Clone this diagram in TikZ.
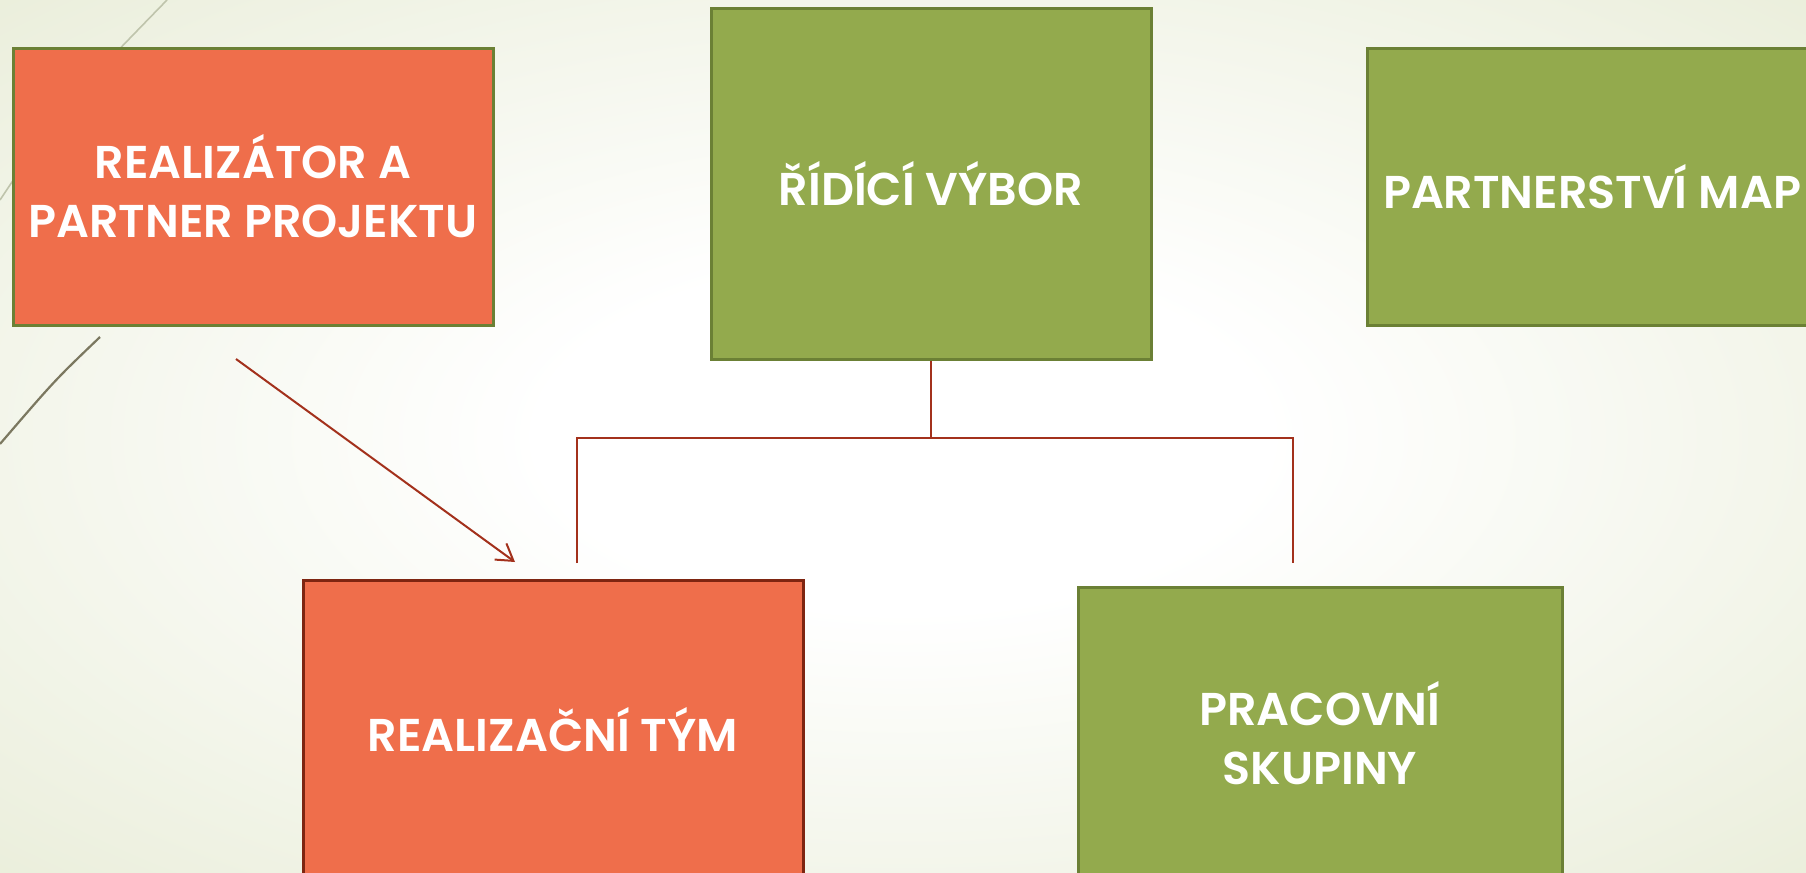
\documentclass[tikz,border=0pt]{standalone}
\usepackage{fontspec}
\setmainfont{Poppins}[BoldFont={Poppins SemiBold}]
\usetikzlibrary{arrows.meta}
\definecolor{boxorange}{HTML}{EF6E4B}
\definecolor{boxgreen}{HTML}{93AA4D}
\definecolor{greenedge}{HTML}{6B8035}
\definecolor{rededge}{HTML}{7E2511}
\definecolor{connred}{HTML}{A3311C}
\definecolor{bgg}{HTML}{E4E9D0}
\definecolor{decoA}{HTML}{BFC4AC}
\definecolor{decoB}{HTML}{7B7860}
\pgfdeclareradialshading{bgshade}{\pgfpoint{0bp}{0bp}}{color(0bp)=(white); color(10bp)=(white); color(44bp)=(bgg); color(80bp)=(bgg)}
\tikzset{
  box/.style={rectangle, draw, line width=1.5pt, inner sep=0pt, text=white,
    font=\bfseries\fontsize{23}{29.5}\selectfont, align=center},
  orangebox/.style={box, fill=boxorange, draw=greenedge},
  greenbox/.style={box, fill=boxgreen, draw=greenedge},
  teambox/.style={box, fill=boxorange, draw=rededge},
  conn/.style={draw=connred, line width=1pt},
}
\begin{document}
\begin{tikzpicture}[x=0.5pt, y=-0.5pt]
\useasboundingbox (0,0) rectangle (1806,873);
\begin{scope}
\clip (0,0) rectangle (1806,873);
\shade[shading=bgshade] (0,0) rectangle (1806,873);
% decorative theme lines
\draw[decoA, line width=0.8pt] (167,0) .. controls (60,110) .. (0,200);
\draw[decoB, line width=1.1pt] (100,337) .. controls (55,380) .. (0,444);

\node[orangebox, minimum width=240pt, minimum height=138.5pt] (b1) at (253,186.5) {REALIZÁTOR A\\PARTNER PROJEKTU};
\node[greenbox, minimum width=220pt, minimum height=175.5pt] (b2) at (931,183.5) {ŘÍDÍCÍ VÝBOR};
\node[greenbox, minimum width=225pt, minimum height=138.5pt] (b3) at (1592,186.5) {PARTNERSTVÍ MAP};
\node[teambox, minimum width=250pt, minimum height=150pt] (b4) at (553,730) {REALIZAČNÍ TÝM};
\node[greenbox, minimum width=242pt, minimum height=146pt] (b5) at (1320,733) {PRACOVNÍ\\SKUPINY};

\coordinate (aS) at (236,359);
\coordinate (aE) at (515,562);
\draw[conn, -{Straight Barb[length=8pt,width=10pt]}] (aS) -- (aE);

\coordinate (jL) at (577,438);
\coordinate (jR) at (1293,438);
\coordinate (eL) at (577,563);
\coordinate (eR) at (1293,563);
\draw[conn] (b2.south) -- (b2.south |- jL);
\draw[conn] (eL) -- (jL) -- (jR) -- (eR);
\end{scope}
\end{tikzpicture}
\end{document}
